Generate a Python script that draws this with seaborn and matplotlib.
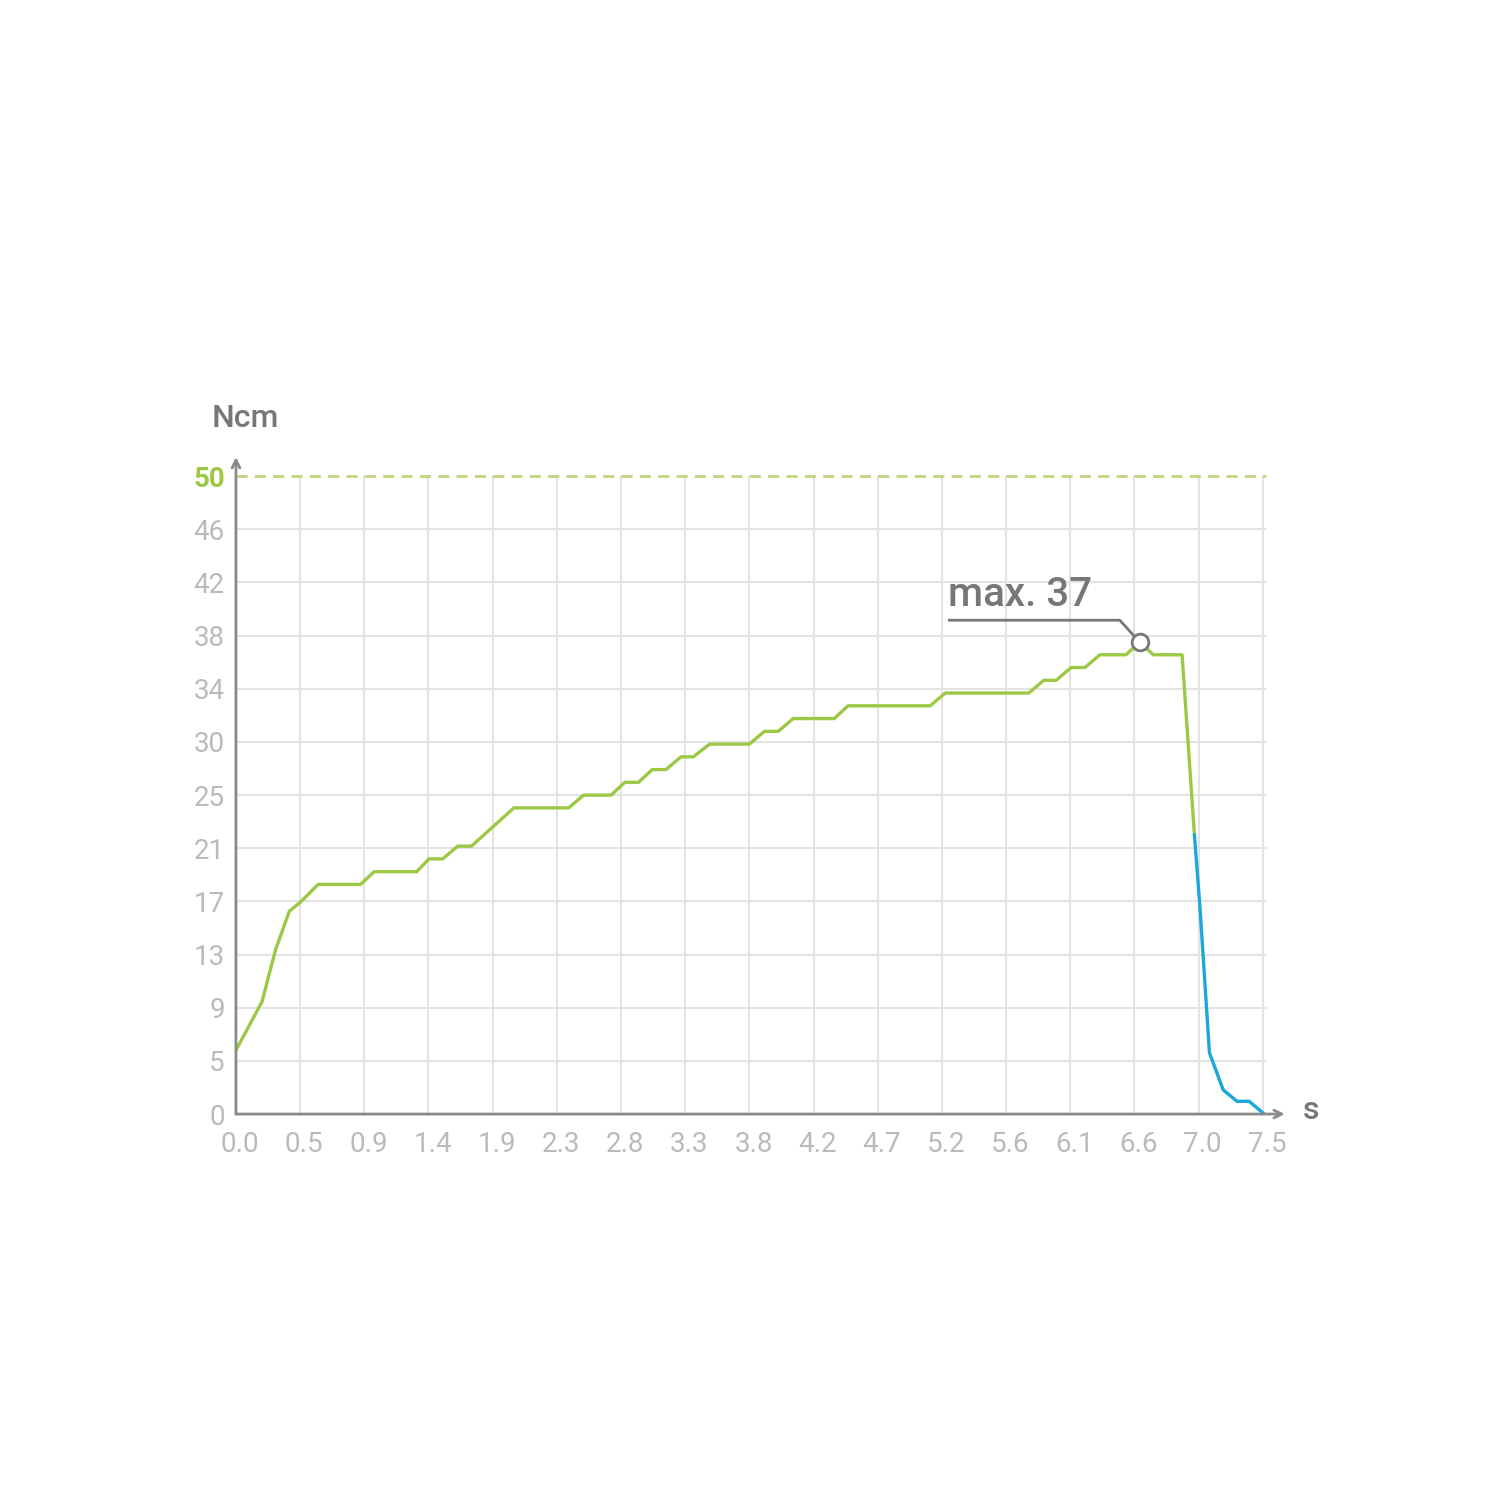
import numpy as np
import pandas as pd
import seaborn as sns
import matplotlib
matplotlib.use("Agg")
import matplotlib.pyplot as plt

# ---- data ----
green_time = [0.0, 0.19, 0.29, 0.39, 0.47, 0.60, 0.91, 1.01, 1.32, 1.41, 1.51, 1.62, 1.72,
              2.03, 2.43, 2.54, 2.74, 2.84, 2.94, 3.04, 3.14, 3.25, 3.34, 3.46, 3.75, 3.86,
              3.96, 4.07, 4.37, 4.47, 5.07, 5.18, 5.79, 5.90, 5.99, 6.10, 6.20, 6.31, 6.50,
              6.60, 6.70, 6.91, 7.00]
green_torque = [5.0, 8.8, 12.9, 15.9, 16.6, 18, 18, 19, 19, 20, 20, 21, 21,
                24, 24, 25, 25, 26, 26, 27, 27, 28, 28, 29, 29, 30,
                30, 31, 31, 32, 32, 33, 33, 34, 34, 35, 35, 36, 36,
                37, 36, 36, 21.9]
blue_time = [7.00, 7.04, 7.11, 7.21, 7.31, 7.40, 7.51]
blue_torque = [21.9, 16.3, 4.8, 1.9, 1.0, 1.0, 0.0]

x_tick_labels = ["0.0", "0.5", "0.9", "1.4", "1.9", "2.3", "2.8", "3.3", "3.8",
                 "4.2", "4.7", "5.2", "5.6", "6.1", "6.6", "7.0", "7.5"]
y_tick_labels = ["0", "5", "9", "13", "17", "21", "25", "30", "34", "38", "42", "46", "50"]
limit_value = 50
max_label = "max. 37"

# ---- style ----
sns.set_theme(style="white")
plt.rcParams["font.family"] = ["Roboto", "DejaVu Sans"]

GREEN = "#9cc845"
BLUE = "#1ba6dc"
GRID = "#e3e3e3"
AXIS = "#8a8a8a"
TICK = "#bababa"
DARK = "#777777"

fig = plt.figure(figsize=(15, 15), dpi=100)
ax = fig.add_axes([0.1573, 0.2573, 0.6983, 0.438])

x_max = 7.5
x_ticks = np.linspace(0, x_max, len(x_tick_labels))
y_ticks = np.linspace(0, limit_value, len(y_tick_labels))

# grid
for xv in x_ticks[1:]:
    ax.plot([xv, xv], [0, limit_value], color=GRID, lw=1.4, zorder=0)
for yv in y_ticks[1:-1]:
    ax.plot([0, x_max + 0.02], [yv, yv], color=GRID, lw=1.4, zorder=0)

# limit dashed line
ax.plot([0, x_max + 0.02], [limit_value, limit_value], color="#bcd77e", lw=2,
        dashes=(4, 2.6), zorder=1)

dg = pd.DataFrame({"t": green_time, "v": green_torque})
db = pd.DataFrame({"t": blue_time, "v": blue_torque})
sns.lineplot(data=dg, x="t", y="v", ax=ax, color=GREEN, lw=2.4, estimator=None,
             sort=False, zorder=3)
sns.lineplot(data=db, x="t", y="v", ax=ax, color=BLUE, lw=2.4, estimator=None,
             sort=False, zorder=3)

ax.set_xlim(0, 7.65)
ax.set_ylim(0, 51.5)
for s in ax.spines.values():
    s.set_visible(False)

# axis arrows
ax.annotate("", xy=(7.66, 0), xytext=(0, 0),
            arrowprops=dict(arrowstyle="->", color=AXIS, lw=2, shrinkA=0, shrinkB=0,
                            mutation_scale=14), annotation_clip=False, zorder=4)
ax.annotate("", xy=(0, 51.5), xytext=(0, 0),
            arrowprops=dict(arrowstyle="->", color=AXIS, lw=2, shrinkA=0, shrinkB=0,
                            mutation_scale=14), annotation_clip=False, zorder=4)

ax.set_xticks(x_ticks + 0.03)
ax.set_xticklabels(x_tick_labels)
ax.set_yticks(y_ticks)
ax.set_yticklabels(y_tick_labels)
ax.tick_params(axis="both", length=0, labelsize=20, colors=TICK)
ax.tick_params(axis="x", pad=12)
ax.tick_params(axis="y", pad=8)
ylabs = ax.get_yticklabels()
ylabs[-1].set_color(GREEN)
ylabs[-1].set_fontweight("bold")
ax.set_xlabel("")
ax.set_ylabel("")

# axis titles
ax.text(-0.18, 54.5, "Ncm", fontsize=23, color=DARK, fontweight="medium",
        ha="left", va="center", clip_on=False)
ax.text(7.79, 0.3, "s", fontsize=23, color=DARK, fontweight="medium",
        ha="left", va="center", clip_on=False)

# max annotation
imax = int(np.argmax(green_torque))
px, py = green_time[imax], green_torque[imax]
ax.plot([px - 1.40, px - 0.145, px], [py + 1.71, py + 1.71, py], color=DARK, lw=2,
        zorder=5, solid_capstyle="butt")
ax.plot([px], [py], marker="o", ms=12, mfc="white", mec=DARK, mew=2, zorder=6)
ax.text(px - 1.40, py + 2.2, max_label, fontsize=29, color=DARK, fontweight="medium",
        ha="left", va="bottom")

fig.savefig("out.png", dpi=100, facecolor="white")
